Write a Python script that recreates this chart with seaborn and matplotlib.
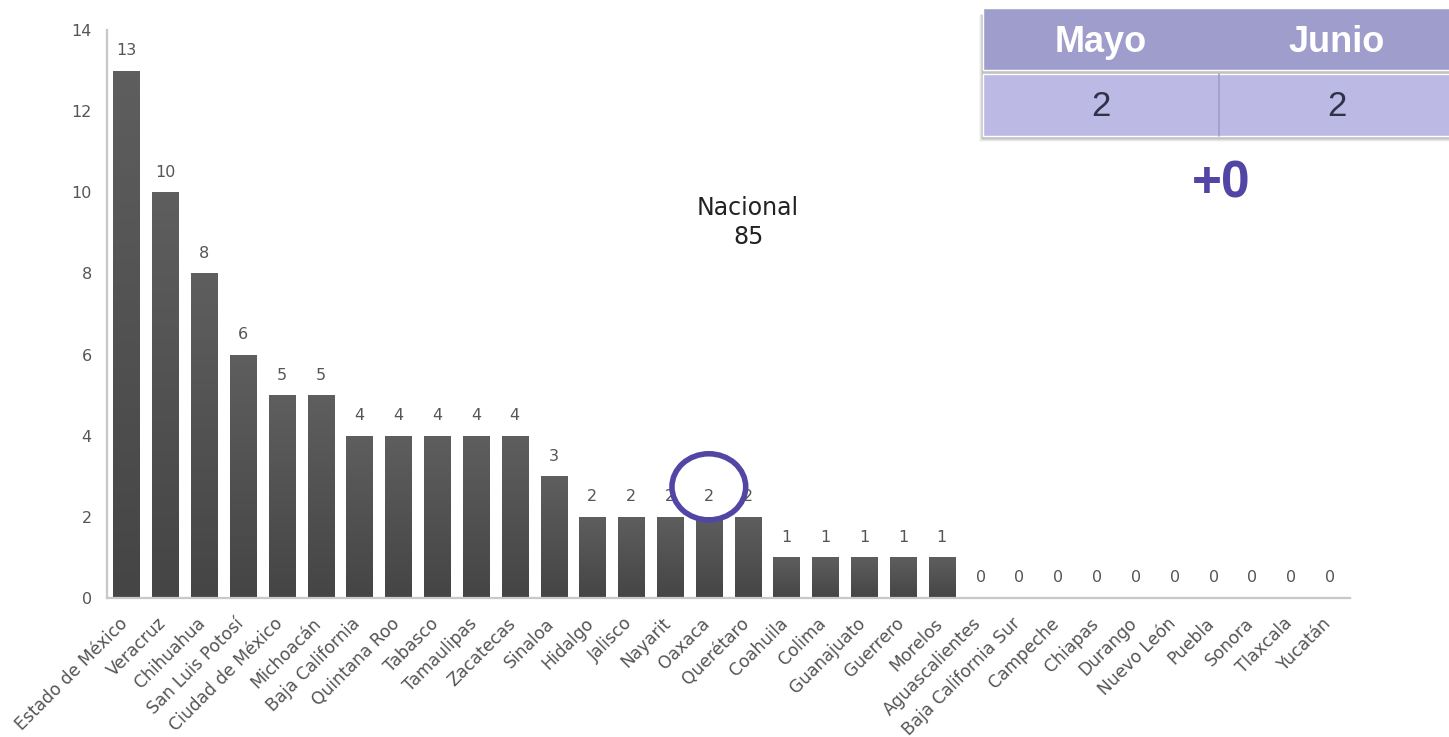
import numpy as np
import pandas as pd
import matplotlib
matplotlib.use("Agg")
import matplotlib.pyplot as plt
import matplotlib.transforms as mtransforms
import seaborn as sns
from matplotlib.patches import Rectangle, Ellipse
from matplotlib.colors import LinearSegmentedColormap

# Data
estados = [
    "Estado de México", "Veracruz", "Chihuahua", "San Luis Potosí",
    "Ciudad de México", "Michoacán", "Baja California", "Quintana Roo",
    "Tabasco", "Tamaulipas", "Zacatecas", "Sinaloa", "Hidalgo", "Jalisco",
    "Nayarit", "Oaxaca", "Querétaro", "Coahuila", "Colima", "Guanajuato",
    "Guerrero", "Morelos", "Aguascalientes", "Baja California Sur",
    "Campeche", "Chiapas", "Durango", "Nuevo León", "Puebla", "Sonora",
    "Tlaxcala", "Yucatán",
]
casos = [13, 10, 8, 6, 5, 5, 4, 4, 4, 4, 4, 3, 2, 2, 2, 2, 2,
         1, 1, 1, 1, 1, 0, 0, 0, 0, 0, 0, 0, 0, 0, 0]
y_ticks = [0, 2, 4, 6, 8, 10, 12, 14]
resaltado = "Oaxaca"
meses = ["Mayo", "Junio"]
casos_mes = [2, 2]

df = pd.DataFrame({"estado": estados, "casos": casos})

sns.set_theme(style="white")
plt.rcParams["font.family"] = ["DejaVu Sans"]

W, H = 1449, 737
fig = plt.figure(figsize=(W / 100, H / 100), dpi=100)
ax = fig.add_axes([107 / W, 1 - 598 / H, 1242.5 / W, 568 / H])

sns.barplot(data=df, x="estado", y="casos", color="#555555", width=0.67,
            saturation=1, ax=ax)

# vertical gradient inside every bar
grad = LinearSegmentedColormap.from_list("g", ["#454545", "#5e5e5e"])
for bar in ax.patches:
    h = bar.get_height()
    if h <= 0:
        continue
    x0 = bar.get_x()
    w = bar.get_width()
    im = ax.imshow(np.linspace(0, 1, 64).reshape(-1, 1), cmap=grad,
                   origin="lower", aspect="auto",
                   extent=[x0, x0 + w, 0, h], zorder=bar.get_zorder() + 0.1)
    im.set_clip_path(bar)

ax.set_xlim(-0.5, len(estados) - 0.5)
ax.set_ylim(0, 14)
ax.set_yticks(y_ticks)
ax.set_xlabel("")
ax.set_ylabel("")

for i, v in enumerate(casos):
    ax.annotate(str(v), (i, v), xytext=(0, 9), textcoords="offset points",
                ha="center", va="bottom", fontsize=11.5, color="#555555")

ax.tick_params(axis="y", length=0, pad=11, labelsize=11.5, labelcolor="#555555")
ax.tick_params(axis="x", length=0, pad=4, labelsize=12.3, labelcolor="#555555")
shift = mtransforms.ScaledTranslation(-5.8 / 72, -7.9 / 72, fig.dpi_scale_trans)
for lab in ax.get_xticklabels():
    lab.set_rotation(45)
    lab.set_ha("right")
    lab.set_rotation_mode("anchor")
    lab.set_transform(lab.get_transform() + shift)

sns.despine(ax=ax)
for s in ["left", "bottom"]:
    ax.spines[s].set_color("#c8c8c8")
    ax.spines[s].set_linewidth(1.6)

ax.text(0.516, 0.661, f"Nacional\n{sum(casos)}", transform=ax.transAxes,
        ha="center", va="center", fontsize=17, color="#222222",
        linespacing=1.3)

# highlight circle around the state's label
idx = estados.index(resaltado)
ax.add_patch(Ellipse((idx, casos[idx] + 0.74), 1.9, 1.63, fill=False,
                     edgecolor="#5246a5", linewidth=4, zorder=5,
                     clip_on=False))

# month table in the top-right corner (figure pixel coords)
def fx(px):
    return px / W

def fy(py):
    return 1 - py / H

left, colw = 983, 236
for k, a in enumerate([0.06, 0.08, 0.12]):
    o = 4 - k
    fig.patches.append(Rectangle((fx(left - o), fy(137 + o)),
                                 fx(W - left + 10), fy(14) - fy(137 + o),
                                 transform=fig.transFigure,
                                 facecolor="#000000", alpha=a, zorder=1))
fig.patches.append(Rectangle((fx(left), fy(70)), fx(W - left + 10),
                             fy(8) - fy(70), transform=fig.transFigure,
                             facecolor="#9f9dcb", zorder=2))
fig.patches.append(Rectangle((fx(left), fy(136)), fx(W - left + 10),
                             fy(74) - fy(136), transform=fig.transFigure,
                             facecolor="#bcbae4", zorder=2))
fig.lines.append(plt.Line2D([fx(left + colw)] * 2, [fy(74), fy(136)],
                            transform=fig.transFigure, color="#9e9ccc",
                            linewidth=1.2, zorder=3))
for j, (m, c) in enumerate(zip(meses, casos_mes)):
    cx = fx(left + colw * j + colw / 2)
    fig.text(cx, fy(43), m, ha="center", va="center", fontsize=26,
             fontweight="bold", color="white", family="Liberation Sans",
             zorder=4)
    fig.text(cx, fy(106), str(c), ha="center", va="center", fontsize=25,
             color="#2f3349", family="Liberation Sans", zorder=4)

diff = casos_mes[1] - casos_mes[0]
fig.text(fx(1221), fy(184), f"{diff:+d}", ha="center", va="center",
         fontsize=37, fontweight="bold", color="#5246a5",
         family="Liberation Sans")

fig.savefig("out.png", dpi=100)
